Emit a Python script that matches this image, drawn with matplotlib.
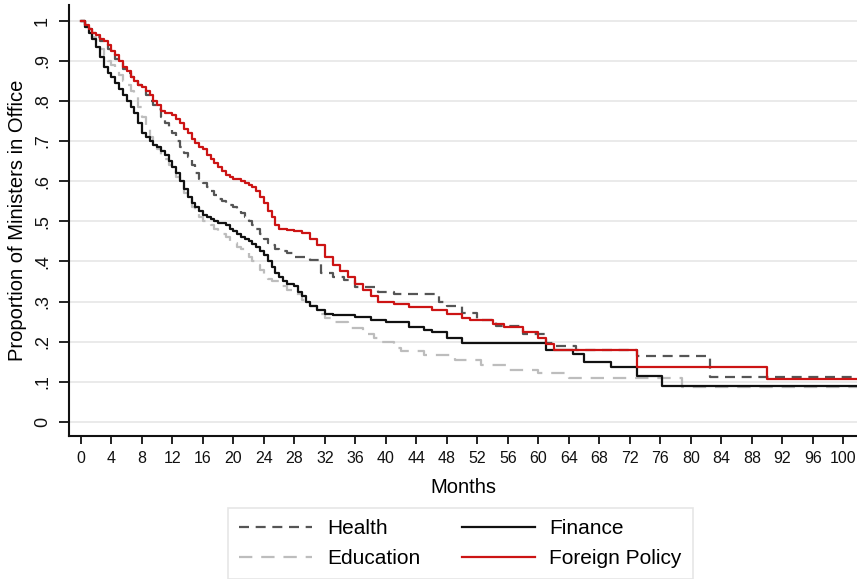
import matplotlib
matplotlib.use("Agg")
import matplotlib.pyplot as plt
from matplotlib import font_manager

# ---------------- data ----------------
END_MONTH = 102

health_months = [0, 0.5, 1, 1.5, 2, 2.5, 3, 3.5, 4, 4.5, 5, 5.5, 6, 6.5, 7, 7.5, 8, 8.5, 9,
                 9.5, 10, 10.5, 11, 11.5, 12, 12.5, 13, 13.5, 14, 14.5, 15, 15.5, 16, 16.5,
                 17, 17.5, 18, 18.5, 19, 19.5, 20, 20.5, 21, 21.5, 22, 22.5, 23, 23.5, 24,
                 24.5, 25, 25.5, 26, 27, 28, 30, 31.5, 33, 34.5, 36, 39, 41, 47, 48, 50, 52,
                 54.5, 58, 61, 62, 65, 73, 82.5]
health_surv = [1.0, 0.99, 0.98, 0.97, 0.96, 0.95, 0.945, 0.93, 0.92, 0.905, 0.895, 0.88,
               0.87, 0.86, 0.85, 0.84, 0.83, 0.815, 0.80, 0.79, 0.78, 0.76, 0.745, 0.73, 0.72,
               0.70, 0.685, 0.67, 0.66, 0.64, 0.62, 0.605, 0.595, 0.585, 0.575, 0.565, 0.555,
               0.55, 0.545, 0.54, 0.535, 0.528, 0.52, 0.51, 0.50, 0.49, 0.48, 0.468, 0.455,
               0.447, 0.44, 0.432, 0.425, 0.42, 0.412, 0.403, 0.37, 0.362, 0.353, 0.337,
               0.325, 0.318, 0.298, 0.29, 0.272, 0.255, 0.24, 0.22, 0.196, 0.19, 0.18, 0.165,
               0.112]

finance_months = [0, 0.5, 1, 1.5, 2, 2.5, 3, 3.5, 4, 4.5, 5, 5.5, 6, 6.5, 7, 7.5, 8, 8.5, 9,
                  9.5, 10, 10.5, 11, 11.5, 12, 12.5, 13, 13.5, 14, 14.5, 15, 15.5, 16, 16.5,
                  17, 17.5, 18, 19, 19.5, 20, 20.5, 21, 21.5, 22, 22.5, 23, 23.5, 24, 24.5,
                  25, 25.5, 26, 26.5, 27, 28, 28.5, 29, 29.5, 30, 31, 32, 33, 36, 38, 40, 43,
                  45, 46, 48, 50, 61, 64.5, 66, 69.5, 73, 76.2]
finance_surv = [1.0, 0.985, 0.97, 0.955, 0.935, 0.91, 0.885, 0.87, 0.86, 0.845, 0.83, 0.815,
                0.80, 0.785, 0.77, 0.745, 0.72, 0.71, 0.70, 0.69, 0.685, 0.675, 0.665, 0.65,
                0.635, 0.62, 0.60, 0.58, 0.56, 0.545, 0.535, 0.525, 0.515, 0.51, 0.505, 0.50,
                0.495, 0.49, 0.48, 0.475, 0.468, 0.46, 0.455, 0.45, 0.443, 0.435, 0.425,
                0.415, 0.40, 0.385, 0.372, 0.36, 0.352, 0.345, 0.338, 0.325, 0.315, 0.30,
                0.29, 0.28, 0.27, 0.266, 0.262, 0.255, 0.248, 0.237, 0.23, 0.225, 0.21, 0.196,
                0.18, 0.17, 0.15, 0.137, 0.115, 0.09]

education_months = [0, 0.5, 1, 1.5, 2, 2.5, 3, 3.5, 4, 4.5, 5, 5.5, 6, 6.5, 7, 7.5, 8, 8.5,
                    9, 9.5, 10, 10.5, 11, 11.5, 12, 12.5, 13, 13.5, 14, 14.5, 15, 15.5, 16,
                    16.5, 17, 17.5, 18, 18.5, 19, 19.5, 20, 20.5, 21, 21.5, 22, 22.5, 23,
                    23.5, 24, 24.5, 25, 26, 27, 28, 29, 30, 31, 32, 33, 35, 37, 38.5, 39.5,
                    41, 42, 45, 49, 52.5, 56, 60, 64, 78.8]
education_surv = [1.0, 0.985, 0.97, 0.96, 0.945, 0.93, 0.915, 0.90, 0.89, 0.875, 0.865,
                  0.85, 0.84, 0.825, 0.81, 0.785, 0.76, 0.735, 0.71, 0.695, 0.68, 0.665,
                  0.655, 0.64, 0.625, 0.61, 0.59, 0.57, 0.555, 0.535, 0.52, 0.51, 0.50, 0.495,
                  0.49, 0.482, 0.475, 0.468, 0.46, 0.452, 0.445, 0.437, 0.43, 0.42, 0.41, 0.40,
                  0.39, 0.378, 0.365, 0.357, 0.35, 0.338, 0.33, 0.32, 0.305, 0.29, 0.27, 0.26,
                  0.25, 0.235, 0.22, 0.21, 0.20, 0.185, 0.178, 0.167, 0.155, 0.142, 0.13,
                  0.122, 0.11, 0.088]

foreign_months = [0, 0.5, 1, 1.5, 2, 2.5, 3, 3.5, 4, 4.5, 5, 5.5, 6, 6.5, 7, 7.5, 8, 8.5, 9,
                  9.5, 10, 10.5, 11, 12, 12.5, 13, 13.5, 14, 14.5, 15, 15.5, 16, 16.5, 17,
                  17.5, 18, 18.5, 19, 19.5, 20, 21, 21.5, 22, 22.5, 23, 23.5, 24, 24.5, 25,
                  25.5, 26, 27, 28, 29, 30, 31, 32, 33, 34, 35, 36, 37, 38, 39, 41, 43, 46,
                  48, 50, 51, 54, 55.5, 58, 60, 61, 62, 73, 90]
foreign_surv = [1.0, 0.99, 0.98, 0.97, 0.965, 0.955, 0.95, 0.94, 0.925, 0.915, 0.90, 0.885,
                0.875, 0.86, 0.85, 0.84, 0.835, 0.825, 0.815, 0.80, 0.79, 0.775, 0.77, 0.765,
                0.755, 0.745, 0.73, 0.72, 0.705, 0.695, 0.685, 0.68, 0.665, 0.655, 0.645,
                0.635, 0.625, 0.615, 0.61, 0.605, 0.60, 0.595, 0.59, 0.585, 0.575, 0.56,
                0.545, 0.525, 0.51, 0.49, 0.48, 0.478, 0.475, 0.47, 0.455, 0.44, 0.41, 0.39,
                0.375, 0.36, 0.345, 0.33, 0.315, 0.30, 0.295, 0.287, 0.28, 0.27, 0.26, 0.254,
                0.245, 0.237, 0.225, 0.21, 0.195, 0.18, 0.137, 0.107]

x_ticks = list(range(0, 101, 4))
y_ticks = [0, 0.1, 0.2, 0.3, 0.4, 0.5, 0.6, 0.7, 0.8, 0.9, 1.0]
y_tick_labels = ["0", ".1", ".2", ".3", ".4", ".5", ".6", ".7", ".8", ".9", "1"]

# ---------------- fonts ----------------
names = {f.name for f in font_manager.fontManager.ttflist}
main_font = "Liberation Sans" if "Liberation Sans" in names else "DejaVu Sans"
tick_font = "Liberation Sans Narrow" if "Liberation Sans Narrow" in names else main_font
plt.rcParams["font.family"] = [main_font, "DejaVu Sans"]

# ---------------- figure ----------------
W, H = 857, 579
fig = plt.figure(figsize=(W / 100, H / 100), dpi=100)
ax = fig.add_axes([69 / W, 1 - 435.6 / H, 1 - 69 / W, (435.6 - 5) / H])

ax.set_xlim(-1.57, 101.8)
ax.set_ylim(-0.034, 1.039)

for y in y_ticks:
    ax.axhline(y, color="#e8e8e8", lw=1.3, zorder=0)


def ext(m, s):
    return list(m) + [END_MONTH], list(s) + [s[-1]]


lw = 1.6
c_health, c_fin, c_edu, c_for = "#555555", "#111111", "#bdbdbd", "#cc1414"
d_health, d_edu = (4.5, 3), (6, 4)

m, s = ext(education_months, education_surv)
ax.step(m, s, where="post", color=c_edu, lw=lw, dashes=d_edu, zorder=2)
m, s = ext(health_months, health_surv)
ax.step(m, s, where="post", color=c_health, lw=lw, dashes=d_health, zorder=3)
m, s = ext(finance_months, finance_surv)
ax.step(m, s, where="post", color=c_fin, lw=lw, zorder=4)
m, s = ext(foreign_months, foreign_surv)
ax.step(m, s, where="post", color=c_for, lw=lw, zorder=5)

# proxy handles for legend
h_health, = ax.plot([], [], color=c_health, lw=lw, dashes=d_health)
h_fin, = ax.plot([], [], color=c_fin, lw=lw)
h_edu, = ax.plot([], [], color=c_edu, lw=lw, dashes=d_edu)
h_for, = ax.plot([], [], color=c_for, lw=lw)

for sp in ["top", "right"]:
    ax.spines[sp].set_visible(False)
for sp in ["left", "bottom"]:
    ax.spines[sp].set_linewidth(1.5)
    ax.spines[sp].set_color("#111111")

ax.set_xticks(x_ticks)
ax.set_xticklabels([str(t) for t in x_ticks], fontfamily=tick_font, fontsize=11.5)
ax.set_yticks(y_ticks)
ax.set_yticklabels(y_tick_labels, rotation=90, va="center", fontfamily=tick_font, fontsize=13)
ax.tick_params(axis="x", direction="out", length=6, width=1.3, pad=5, colors="#111111")
ax.tick_params(axis="y", direction="out", length=7, width=1.3, pad=6, colors="#111111")

ax.set_xlabel("Months", fontsize=14.5, labelpad=9)
ax.set_ylabel("Proportion of Ministers in Office", fontsize=14.5, labelpad=5)

# column-wise fill: col1 = Health, Education ; col2 = Finance, Foreign Policy
leg = fig.legend([h_health, h_edu, h_fin, h_for],
                 ["Health", "Education", "Finance", "Foreign Policy"],
                 ncol=2, loc="upper left", bbox_to_anchor=(228 / W, 1 - 508 / H),
                 borderaxespad=0, fontsize=15, frameon=True, fancybox=False,
                 handlelength=3.5, handletextpad=0.7, columnspacing=2.0, borderpad=0.55,
                 labelspacing=0.5)
leg.get_frame().set_edgecolor("#e0e0e0")
leg.get_frame().set_linewidth(1.2)

fig.savefig("out.png", dpi=100)
